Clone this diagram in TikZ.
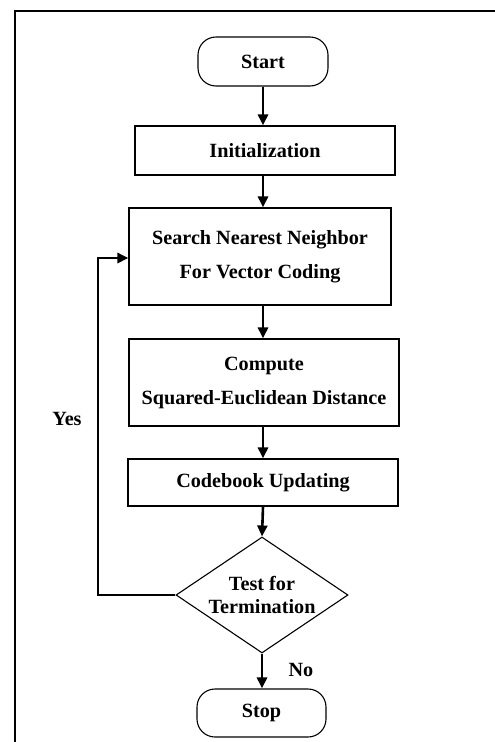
\documentclass[tikz,border=0pt]{standalone}
\usepackage{fontspec}
\setmainfont{Liberation Serif}
\usetikzlibrary{arrows.meta,shapes.geometric}
\tikzset{
  boxnode/.style={draw, line width=1.1pt, rectangle, inner sep=0pt, align=center,
    font=\bfseries\fontsize{20.2}{34}\selectfont},
  termnode/.style={boxnode, rounded corners=18pt},
  decnode/.style={draw, line width=1.1pt, diamond, shape aspect=1.48, inner sep=0pt, align=center,
    font=\bfseries\fontsize{20.2}{23}\selectfont},
  arr/.style={line width=2.6pt, -{Triangle[length=11pt,width=10pt]}},
  lbl/.style={font=\bfseries\fontsize{20.2}{24}\selectfont, inner sep=0pt}
}
\begin{document}
\begin{tikzpicture}[x=1pt,y=-1pt]
\useasboundingbox (0,0) rectangle (495,742);
\draw[line width=1.6pt] (15,742) -- (15,11) -- (495,11);

\node[termnode, minimum width=130pt, minimum height=49pt] (start) at (263,61.5) {Start};
\node[boxnode, minimum width=260pt, minimum height=49pt] (init) at (265,150.5) {Initialization};
\node[boxnode, minimum width=262pt, minimum height=97pt] (search) at (260,256.5) {Search Nearest Neighbor\\For Vector Coding};
\node[boxnode, minimum width=270pt, minimum height=87pt] (comp) at (264,382.5) {Compute\\Squared-Euclidean Distance};
\node[boxnode, minimum width=270pt, minimum height=47pt] (code) at (263,482.5) {Codebook Updating};
\node[decnode, minimum width=172pt, minimum height=116pt] (dec) at (262,595) {Test for\\Termination};
\node[termnode, minimum width=129pt, minimum height=48pt] (stop) at (261.5,713) {Stop};

\coordinate (sx) at (263,0);
\draw[arr] (start.south -| sx) -- (init.north -| sx);
\draw[arr] (init.south -| sx) -- (search.north -| sx);
\draw[arr] (search.south -| sx) -- (comp.north -| sx);
\draw[arr] (comp.south -| sx) -- (code.north -| sx);
\draw[arr] (code.south -| sx) -- (dec.north);
\draw[arr] (dec.south) -- (stop.north -| dec.south);

\coordinate (loopc) at (98,258);
\draw[arr] (dec.west) -| (loopc) -- (search.west |- loopc);

\node[lbl] (yes) at (67,419) {Yes};
\node[lbl] (no) at (301,670) {No};
\end{tikzpicture}
\end{document}
